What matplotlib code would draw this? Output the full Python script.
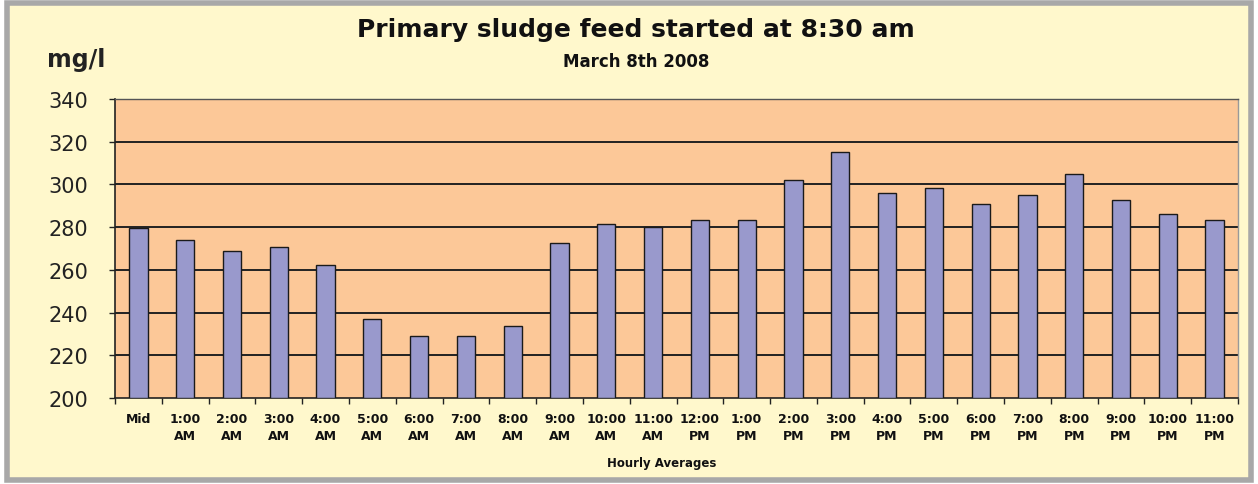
import matplotlib
matplotlib.use("Agg")
import matplotlib.pyplot as plt
from matplotlib.patches import Rectangle
import numpy as np

categories = ["Mid", "1:00\nAM", "2:00\nAM", "3:00\nAM", "4:00\nAM", "5:00\nAM", "6:00\nAM",
              "7:00\nAM", "8:00\nAM", "9:00\nAM", "10:00\nAM", "11:00\nAM", "12:00\nPM",
              "1:00\nPM", "2:00\nPM", "3:00\nPM", "4:00\nPM", "5:00\nPM", "6:00\nPM",
              "7:00\nPM", "8:00\nPM", "9:00\nPM", "10:00\nPM", "11:00\nPM"]
values = [279.5, 274, 269, 270.5, 262.5, 237, 229, 229, 233.5, 272.5, 281.5, 280,
          283.5, 283.5, 302, 315, 296, 298.5, 291, 295, 305, 292.5, 286, 283.5]
yticks = [200, 220, 240, 260, 280, 300, 320, 340]

W, H = 1258, 485
fig = plt.figure(figsize=(W / 100, H / 100), dpi=100)
fig.patch.set_facecolor("white")

# outer gray frame and cream background
fig.patches.append(Rectangle((7 / W, 4 / H), (W - 14) / W, (H - 8) / H,
                             transform=fig.transFigure, facecolor="#FFF8CC",
                             edgecolor="#A8A8A8", linewidth=4, zorder=-10))

left, right, top, bottom = 115, 1238, 100, 399
ax = fig.add_axes([left / W, 1 - bottom / H, (right - left) / W, (bottom - top) / H])
ax.set_zorder(5)
ax.set_facecolor("#FCC898")

x = np.arange(len(categories))
ax.bar(x, [v - 200 for v in values], bottom=200, width=0.39, color="#9999CC",
       edgecolor="#1a1a1a", linewidth=1.0, zorder=3)

ax.set_xlim(-0.5, len(categories) - 0.5)
ax.set_ylim(200, 340)
ax.set_yticks(yticks)
ax.set_yticklabels([str(t) for t in yticks], fontsize=15, family="DejaVu Sans", color="#222222")
for t in yticks[1:]:
    ax.axhline(t, color="#222222", linewidth=1.4, zorder=2)

ax.set_xticks(x)
ax.set_xticklabels(categories, fontsize=9, fontweight="bold", family="DejaVu Sans",
                   linespacing=1.45, color="#111111")
ax.set_xticks(np.arange(-0.5, len(categories)), minor=True)
ax.tick_params(axis="x", which="major", length=0, pad=10)
ax.tick_params(axis="x", which="minor", length=4, direction="out", color="#222222", width=1)
ax.tick_params(axis="y", length=4, direction="out", color="#222222", width=1, pad=15)

for s in ["left", "bottom"]:
    ax.spines[s].set_color("#222222")
    ax.spines[s].set_linewidth(1.2)
ax.spines["top"].set_color("#555555")
ax.spines["top"].set_linewidth(1.0)
ax.spines["right"].set_color("#999999")
ax.spines["right"].set_linewidth(1.0)

fig.text(636 / W, 1 - 30 / H, "Primary sludge feed started at 8:30 am", ha="center", va="center",
         fontsize=18, fontweight="bold", family="DejaVu Sans", color="#111111")
fig.text(636 / W, 1 - 62 / H, "March 8th 2008", ha="center", va="center",
         fontsize=12, fontweight="bold", family="DejaVu Sans", color="#111111")
fig.text(76 / W, 1 - 60 / H, "mg/l", ha="center", va="center",
         fontsize=17, fontweight="bold", family="DejaVu Sans", color="#222222")
fig.text(662 / W, 1 - 463 / H, "Hourly Averages", ha="center", va="center",
         fontsize=8.5, fontweight="bold", family="DejaVu Sans", color="#111111")

fig.savefig("out.png", dpi=100, facecolor=fig.get_facecolor())
